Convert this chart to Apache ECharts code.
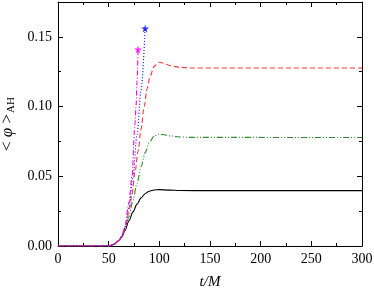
<!DOCTYPE html>
<html><head><meta charset="utf-8">
<script src="https://cdn.jsdelivr.net/npm/echarts@6/dist/echarts.min.js"></script>
<style>html,body{margin:0;padding:0;background:#fff}#c{width:374px;height:294px}</style>
</head><body><div id="c"></div>
<script>
const xTicks = [0, 50, 100, 150, 200, 250, 300];
const yTicks = [0.00, 0.05, 0.10, 0.15];

const tBlack = [0, 50, 55, 60, 63, 66, 70, 74, 78, 82, 86, 90, 95, 100, 110, 120, 150, 300];
const yBlack = [0, 0, 0.0012, 0.0038, 0.0065, 0.011, 0.018, 0.0245, 0.030, 0.0345, 0.0375, 0.0393, 0.0402, 0.0404, 0.0401, 0.0398, 0.0397, 0.0397];

const tGreen = [0, 50, 55, 60, 63, 66, 70, 74, 78, 82, 86, 90, 95, 100, 105, 110, 120, 130, 300];
const yGreen = [0, 0, 0.0012, 0.004, 0.007, 0.012, 0.021, 0.033, 0.045, 0.057, 0.067, 0.074, 0.079, 0.0802, 0.0798, 0.079, 0.0782, 0.0779, 0.0778];

const tRed = [0, 50, 55, 60, 63, 66, 70, 73, 76, 79, 82, 85, 88, 91, 95, 100, 105, 110, 120, 130, 300];
const yRed = [0, 0, 0.0012, 0.004, 0.007, 0.012, 0.024, 0.037, 0.053, 0.068, 0.084, 0.100, 0.113, 0.122, 0.129, 0.1318, 0.131, 0.1295, 0.1282, 0.1277, 0.1277];

const tBlue = [0, 50, 55, 60, 63, 66, 70, 74, 78, 82, 86];
const yBlue = [0, 0, 0.0012, 0.004, 0.007, 0.013, 0.028, 0.050, 0.080, 0.112, 0.156];

const tMagenta = [0, 50, 55, 60, 63, 66, 70, 73, 76, 77, 78, 79];
const yMagenta = [0, 0, 0.0012, 0.004, 0.007, 0.014, 0.031, 0.050, 0.088, 0.100, 0.118, 0.141];

const pairs = (t, y) => t.map((v, i) => [v, y[i]]);
const STAR = 'path://M50,0 L61,35 L98,35 L68,57 L79,91 L50,70 L21,91 L32,57 L2,35 L39,35 Z';
const serif = "'Liberation Serif', 'Times New Roman', serif";

const chart = echarts.init(document.getElementById('c'));
const axisCommon = {
  axisLine: {show: true, onZero: false, lineStyle: {color: '#000', width: 1}},
  axisTick: {show: true, inside: true, length: 5, lineStyle: {color: '#000'}},
  minorTick: {show: true, splitNumber: 2, length: 3, lineStyle: {color: '#000'}},
  splitLine: {show: false}
};
function line(t, y, color, type, width) {
  return {type: 'line', data: pairs(t, y), symbol: 'none', smooth: 0.3, smoothMonotone: 'x',
    lineStyle: {color, type, width: width || 1.1}, z: 3};
}
function star(t, y, color) {
  return {type: 'scatter', data: [[t[t.length - 1], y[y.length - 1]]], symbol: STAR, symbolSize: 8,
    itemStyle: {color}, z: 4};
}
chart.setOption({
  animation: false,
  grid: {left: 58, right: 12, top: 2, bottom: 48, containLabel: false, outerBoundsMode: 'none'},
  xAxis: [
    Object.assign({type: 'value', min: xTicks[0], max: xTicks[xTicks.length - 1], interval: 50, position: 'bottom',
      name: '{i|t/M}', nameLocation: 'middle', nameGap: 29,
      nameTextStyle: {rich: {i: {fontFamily: serif, fontStyle: 'italic', fontSize: 15, color: '#000'}}},
      axisLabel: {fontFamily: serif, fontSize: 14, color: '#000', margin: 6}}, axisCommon),
    Object.assign({type: 'value', min: 0, max: 300, interval: 50, position: 'top', axisLabel: {show: false}}, axisCommon)
  ],
  yAxis: [
    Object.assign({type: 'value', min: yTicks[0], max: 0.175, interval: 0.05, position: 'left',
      name: '{a|< }{p|φ}{a| >}{s|AH}', nameLocation: 'middle', nameGap: 38, nameRotate: 90,
      nameTextStyle: {rich: {
        a: {fontFamily: serif, fontSize: 17, color: '#000'},
        p: {fontFamily: serif, fontStyle: 'italic', fontSize: 17, color: '#000'},
        s: {fontFamily: serif, fontSize: 11, color: '#000', verticalAlign: 'bottom', padding: [7, 0, 0, 1]}
      }},
      axisLabel: {fontFamily: serif, fontSize: 14, color: '#000', margin: 6, showMaxLabel: false,
        formatter: v => (Math.abs(v / 0.05 - Math.round(v / 0.05)) < 1e-6 ? v.toFixed(2) : '')}}, axisCommon),
    Object.assign({type: 'value', min: 0, max: 0.175, interval: 0.05, position: 'right', axisLabel: {show: false}}, axisCommon)
  ],
  series: [
    line(tBlack, yBlack, '#000000', 'solid'),
    line(tGreen, yGreen, '#2e8b2e', [6, 2, 1, 2, 1, 2]),
    line(tRed, yRed, '#ff3333', [5, 3]),
    line(tBlue, yBlue, '#0000ff', [1, 2]),
    line(tMagenta, yMagenta, '#ff00ff', [5, 2, 1, 2]),
    star(tBlue, yBlue, '#0000ff'),
    star(tMagenta, yMagenta, '#ff00ff')
  ]
});
</script></body></html>
